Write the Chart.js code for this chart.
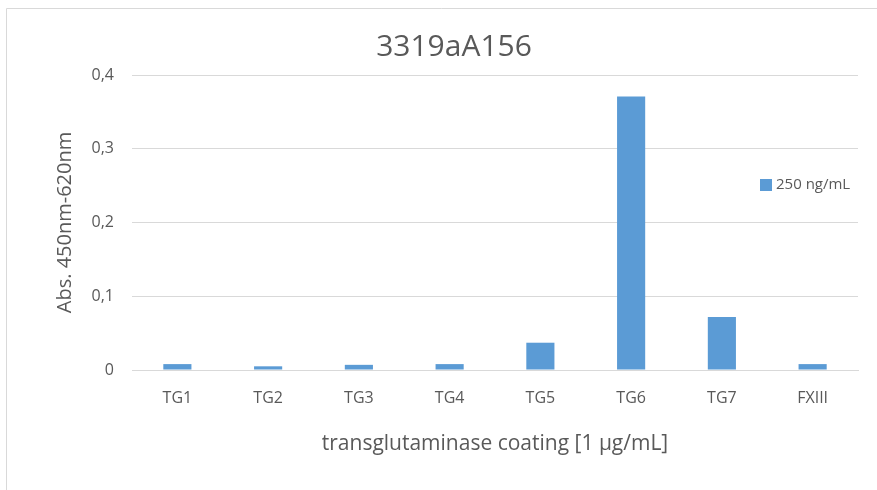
<!DOCTYPE html>
<html>
<head>
<meta charset="utf-8">
<script src="https://cdn.jsdelivr.net/npm/chart.js@4.4.1/dist/chart.umd.min.js"></script>
<style>
  html, body { margin: 0; padding: 0; background: #fff; }
  #wrap { position: relative; width: 877px; height: 490px; }
</style>
</head>
<body>
<div id="wrap"><canvas id="chart" width="877" height="490"></canvas></div>
<script>
var categories = ['TG1', 'TG2', 'TG3', 'TG4', 'TG5', 'TG6', 'TG7', 'FXIII'];
var values250 = [0.008, 0.005, 0.007, 0.008, 0.037, 0.371, 0.072, 0.008];
var seriesLabel = '250 ng/mL';
var chartTitle = '3319aA156';
var yTitle = 'Abs. 450nm-620nm';
var xTitle = 'transglutaminase coating [1 \u00b5g/mL]';

var textColor = '#595959';
var gridColor = '#D9D9D9';
var barColor = '#5B9BD5';
var fontFamily = '"Open Sans", Lato, sans-serif';

// frame lines (left + top) like the cropped Excel chart border
var framePlugin = {
    id: 'frame',
    beforeDraw: function (chart) {
        var ctx = chart.ctx;
        ctx.save();
        ctx.strokeStyle = gridColor;
        ctx.lineWidth = 1;
        ctx.beginPath();
        ctx.moveTo(6.5, chart.height);
        ctx.lineTo(6.5, 8.5);
        ctx.lineTo(chart.width, 8.5);
        ctx.stroke();
        ctx.restore();
    }
};

// legend sits inside the plot area on the right
var legendPlugin = {
    id: 'insideLegend',
    afterDraw: function (chart) {
        var ctx = chart.ctx;
        var ds = chart.data.datasets[0];
        ctx.save();
        ctx.fillStyle = ds.backgroundColor;
        ctx.fillRect(760, 179, 12, 12);
        ctx.fillStyle = textColor;
        ctx.font = '15px ' + fontFamily;
        ctx.textBaseline = 'middle';
        ctx.textAlign = 'left';
        ctx.fillText(ds.label, 776, 185);
        ctx.restore();
    }
};

function createChart(canvasId) {
    var ctx = document.getElementById(canvasId).getContext('2d');
    return new Chart(ctx, {
        type: 'bar',
        data: {
            labels: categories,
            datasets: [{
                label: seriesLabel,
                data: values250,
                backgroundColor: barColor,
                borderWidth: 0,
                barPercentage: 0.62,
                categoryPercentage: 0.5
            }]
        },
        options: {
            responsive: false,
            animation: false,
            layout: { padding: { left: 50, right: 19, top: 0, bottom: 33 } },
            plugins: {
                legend: { display: false },
                tooltip: { enabled: false },
                title: {
                    display: true,
                    text: chartTitle,
                    color: textColor,
                    font: { family: fontFamily, size: 30, weight: 'normal' },
                    padding: { top: 29, bottom: 10 }
                }
            },
            scales: {
                x: {
                    grid: { display: false },
                    border: { display: true, color: gridColor, width: 1 },
                    ticks: { color: textColor, font: { family: fontFamily, size: 16 }, padding: 11 },
                    title: {
                        display: true,
                        text: xTitle,
                        color: textColor,
                        font: { family: fontFamily, size: 21 },
                        padding: { top: 16, bottom: 0 }
                    },
                    afterFit: function (scale) { scale.height = 87; }
                },
                y: {
                    min: 0,
                    max: 0.4,
                    border: { display: false },
                    grid: { color: gridColor, drawTicks: false },
                    ticks: {
                        stepSize: 0.1,
                        color: textColor,
                        padding: 18,
                        font: { family: fontFamily, size: 16 },
                        callback: function (v) { return v === 0 ? '0' : v.toFixed(1).replace('.', ','); }
                    },
                    title: {
                        display: true,
                        text: yTitle,
                        color: textColor,
                        font: { family: fontFamily, size: 20 },
                        padding: { top: 3, bottom: 0 }
                    },
                    afterFit: function (scale) { scale.width = 82; }
                }
            }
        },
        plugins: [framePlugin, legendPlugin]
    });
}

createChart('chart');
</script>
</body>
</html>
